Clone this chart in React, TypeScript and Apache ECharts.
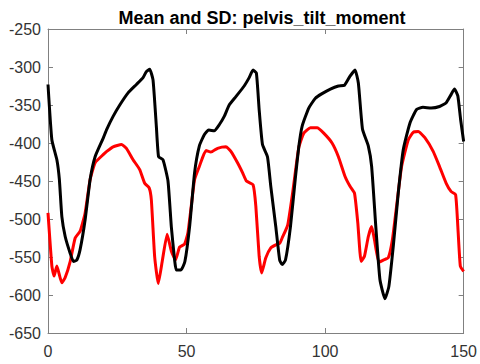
import React, { useEffect, useRef } from "react";
import * as echarts from "echarts";

const titleText = "Mean and SD: pelvis_tilt_moment";
const xTicks = [0, 50, 100, 150];
const yRange = [-650, -250];

const meanCurve: [number, number][] = [
  [0, -323], [1.4, -396], [3.2, -422], [4.1, -448], [5, -497], [6.2, -523], [8, -545], [9.2, -556],
  [10.4, -554], [11.6, -540], [13.4, -501], [15.2, -448], [17, -418], [20, -393], [21.2, -382],
  [23.5, -365], [25.9, -350], [28.9, -334], [31.9, -323], [34.3, -314], [35.5, -306], [36.7, -303],
  [37.9, -317], [39.1, -378], [39.9, -418], [41.5, -422], [43.3, -450], [44.5, -510], [45.7, -554],
  [46.3, -567], [48, -567], [49.4, -556], [51.1, -510], [52.9, -439], [54.6, -404], [56.4, -389],
  [58, -383], [60, -384], [61.8, -376], [63.6, -365], [65.4, -350], [67.8, -339], [70.8, -325],
  [72.6, -314], [74, -304], [75.2, -308], [76.2, -356], [77.4, -402], [79.2, -418], [80.4, -457],
  [82.2, -510], [83.6, -554], [84.5, -560], [85.7, -554], [87.5, -510], [89.3, -445], [90.5, -405],
  [91.7, -378], [94.1, -354], [96.5, -341], [98.9, -335], [101.9, -329], [104.8, -325], [107, -324],
  [109, -312], [110.8, -304], [112, -321], [113.5, -382], [115.6, -404], [116.8, -431], [118.3, -510],
  [119.8, -580], [121.6, -605], [123, -589], [124.6, -536], [126.4, -466], [128.2, -409], [130.6, -374],
  [133, -356], [135.3, -353], [138.3, -354], [141.3, -352], [143.7, -347], [145.5, -336], [146.7, -329],
  [147.9, -338], [148.9, -369], [150, -398],
];

const sdCurve: [number, number][] = [
  [0, -492], [1.4, -562], [2.2, -575], [3.2, -562], [5, -584], [6.2, -577], [8, -556], [9.8, -525],
  [11.6, -516], [13.4, -492], [15.2, -448], [17, -426], [20, -415], [21.2, -411], [23.5, -405],
  [26.5, -402], [28.3, -407], [30.7, -422], [33.1, -435], [34.9, -453], [36.5, -459], [37.3, -475],
  [38.5, -550], [39.8, -585], [41.3, -554], [43, -520], [44.5, -542], [46, -554], [47.5, -537],
  [49.3, -533], [50.5, -518], [51.7, -483], [52.9, -448], [54.6, -431], [57, -410], [58.8, -412],
  [61.2, -407], [64.2, -405], [66, -411], [68.4, -426], [70.2, -439], [71.6, -450], [74, -455],
  [75, -483], [76.2, -549], [77.1, -571], [78.6, -551], [80.4, -538], [82.2, -534], [83.6, -532],
  [84.5, -525], [86.5, -508], [88.3, -465], [90.5, -406], [92.3, -387], [94.7, -380], [97.1, -380],
  [99.5, -387], [102.5, -400], [104.8, -418], [107.2, -444], [109, -457], [110.6, -466], [111.8, -505],
  [113, -556], [114.2, -549], [115.6, -523], [116.8, -510], [117.8, -527], [119.4, -557], [121, -554],
  [122.8, -551], [124.3, -527], [125.8, -483], [127.6, -431], [130, -396], [131.8, -386], [133.6, -385],
  [136, -393], [139, -411], [141.3, -431], [143.7, -453], [145.5, -464], [147.1, -468], [147.9, -510],
  [148.8, -562], [150, -569],
];

const FONT = "'Liberation Sans', Arial, Helvetica, sans-serif";
const AXIS_COLOR = "#808080";
const LABEL_COLOR = "#333333";

export default function App() {
  const ref = useRef<HTMLDivElement>(null);
  useEffect(() => {
    if (!ref.current) return;
    const chart = echarts.init(ref.current, undefined, { renderer: "svg" });
    const xMin = xTicks[0];
    const xMax = xTicks[xTicks.length - 1];
    const baseX = {
      type: "value" as const,
      min: xMin,
      max: xMax,
      interval: 50,
      splitLine: { show: false },
      axisLine: { show: true, onZero: false, lineStyle: { color: AXIS_COLOR, width: 1 } },
      axisTick: { show: true, inside: true, length: 5, lineStyle: { color: AXIS_COLOR } },
    };
    const baseY = {
      type: "value" as const,
      min: yRange[0],
      max: yRange[1],
      interval: 50,
      splitLine: { show: false },
      axisLine: { show: true, onZero: false, lineStyle: { color: AXIS_COLOR, width: 1 } },
      axisTick: { show: true, inside: true, length: 5, lineStyle: { color: AXIS_COLOR } },
    };
    chart.setOption({
      animation: false,
      backgroundColor: "#ffffff",
      title: {
        text: titleText,
        left: 257,
        textAlign: "center",
        top: 4,
        textStyle: { fontFamily: FONT, fontSize: 18, fontWeight: "bold", color: "#000" },
      },
      grid: { left: 48, right: 14, top: 29, bottom: 31, containLabel: false },
      xAxis: [
        {
          ...baseX,
          position: "bottom",
          axisLabel: { show: true, margin: 10, color: LABEL_COLOR, fontSize: 16, fontFamily: FONT },
        },
        { ...baseX, position: "top", axisLabel: { show: false } },
      ],
      yAxis: [
        {
          ...baseY,
          position: "left",
          axisLabel: { show: true, margin: 7, color: LABEL_COLOR, fontSize: 16, fontFamily: FONT },
        },
        { ...baseY, position: "right", axisLabel: { show: false } },
      ],
      series: [
        {
          type: "line",
          data: sdCurve,
          showSymbol: false,
          smooth: 0.15,
          lineStyle: { color: "#ff0000", width: 3 },
          z: 2,
        },
        {
          type: "line",
          data: meanCurve,
          showSymbol: false,
          smooth: 0.15,
          lineStyle: { color: "#000000", width: 3 },
          z: 3,
        },
      ],
    });
    return () => chart.dispose();
  }, []);
  return (
    <div
      ref={ref}
      style={{ position: "absolute", left: 0, top: 0, width: 480, height: 364, background: "#fff" }}
    />
  );
}
